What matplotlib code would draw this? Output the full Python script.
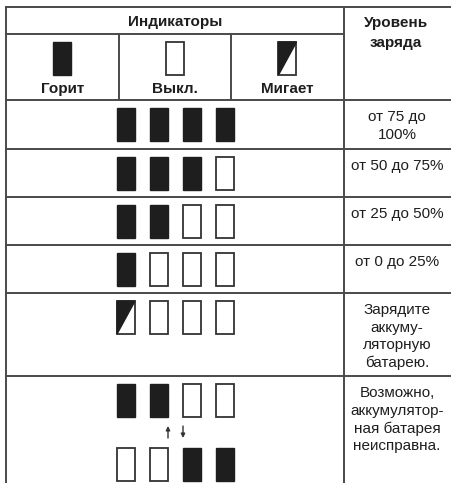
import matplotlib
matplotlib.use("Agg")
import matplotlib.pyplot as plt
from matplotlib.patches import Rectangle, Polygon

plt.rcParams['font.family'] = ['Liberation Sans', 'DejaVu Sans']

# header texts
title_left = "Индикаторы"
title_right = "Уровень\nзаряда"
legend_states = ["on", "off", "blink"]
legend_labels = ["Горит", "Выкл.", "Мигает"]

# indicator states per row (4 lamps), and charge level text
rows_states = [
    [["on", "on", "on", "on"]],
    [["on", "on", "on", "off"]],
    [["on", "on", "off", "off"]],
    [["on", "off", "off", "off"]],
    [["blink", "off", "off", "off"]],
    [["on", "on", "off", "off"], ["off", "off", "on", "on"]],
]
level_labels = [
    "от 75 до\n100%",
    "от 50 до 75%",
    "от 25 до 50%",
    "от 0 до 25%",
    "Зарядите\nаккуму-\nляторную\nбатарею.",
    "Возможно,\nаккумулятор-\nная батарея\nнеисправна.",
]

# layout (pixels)
W, H = 452, 483
x_left, x_c1, x_c2, x_right = 6, 119, 231, 344
y_top, y_h1, y_h2 = 7, 34, 100
row_edges = [100, 149, 197, 245, 293, 376, 483]
lamp_w, lamp_h = 18, 33
lamp_x = [117, 150, 183, 216]
line_col = "#4a4a4a"
ink = "#1e1e1e"
fs = 11


def lamp(ax, x, y, state):
    if state == "on":
        ax.add_patch(Rectangle((x, y), lamp_w, lamp_h, facecolor=ink,
                               edgecolor=ink, lw=1.0))
    elif state == "off":
        ax.add_patch(Rectangle((x, y), lamp_w, lamp_h, facecolor="white",
                               edgecolor="#333333", lw=1.3))
    else:
        ax.add_patch(Rectangle((x, y), lamp_w, lamp_h, facecolor="white",
                               edgecolor="#333333", lw=1.3))
        ax.add_patch(Polygon([(x, y), (x + lamp_w, y), (x, y + lamp_h)],
                             closed=True, facecolor=ink, edgecolor=ink, lw=1.0))


fig = plt.figure(figsize=(W / 100, H / 100), dpi=100)
ax = fig.add_axes([0, 0, 1, 1])
ax.set_xlim(0, W)
ax.set_ylim(H, 0)
ax.axis('off')

#table grid
lw = 1.4
ax.plot([x_left, W], [y_top, y_top], color=line_col, lw=lw)
ax.plot([x_left, x_right], [y_h1, y_h1], color=line_col, lw=lw)
for y in row_edges[:-1]:
    ax.plot([x_left, W], [y, y], color=line_col, lw=lw)
ax.plot([x_left, x_left], [y_top, H], color=line_col, lw=lw)
ax.plot([x_right, x_right], [y_top, H], color=line_col, lw=lw)
for x in [x_c1, x_c2]:
    ax.plot([x, x], [y_h1, y_h2], color=line_col, lw=lw)

#header
ax.text((x_left + x_right) / 2, 22, title_left, ha='center', va='center',
        fontsize=fs, fontweight='bold', color=ink)
ax.text((x_right + W) / 2 - 2, 16, title_right, ha='center', va='top',
        fontsize=fs, fontweight='bold', color=ink, linespacing=1.55)
cols = [x_left, x_c1, x_c2, x_right]
for i, (st, lab) in enumerate(zip(legend_states, legend_labels)):
    cx = (cols[i] + cols[i + 1]) / 2
    lamp(ax, cx - lamp_w / 2, 42, st)
    ax.text(cx, 89, lab, ha='center', va='center', fontsize=fs,
            fontweight='bold', color=ink)

#body rows
for r, (sets, lab) in enumerate(zip(rows_states, level_labels)):
    top = row_edges[r]
    for k, states in enumerate(sets):
        y0 = top + 8 + k * 64
        for x, st in zip(lamp_x, states):
            lamp(ax, x, y0, st)
    if len(sets) > 1:
        ax.annotate("", xy=(168, 426), xytext=(168, 438),
                    arrowprops=dict(arrowstyle="-|>", color="#333333", lw=1.0,
                                    mutation_scale=6, shrinkA=0, shrinkB=0))
        ax.annotate("", xy=(183, 438), xytext=(183, 426),
                    arrowprops=dict(arrowstyle="-|>", color="#333333", lw=1.0,
                                    mutation_scale=6, shrinkA=0, shrinkB=0))
    ax.text((x_right + W) / 2 - 1, top + 10, lab, ha='center', va='top',
            fontsize=fs, color=ink, linespacing=1.32)

fig.savefig("out.png", dpi=100)
